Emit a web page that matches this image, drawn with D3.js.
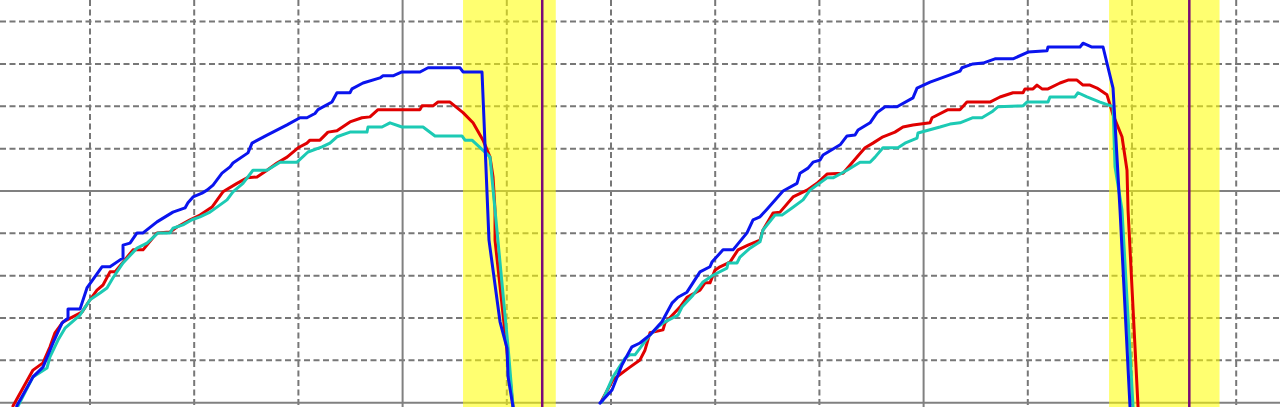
<!DOCTYPE html>
<html>
<head>
<meta charset="utf-8">
<script src="https://cdn.jsdelivr.net/npm/d3@7"></script>
<style>
html,body{margin:0;padding:0;background:#fff;overflow:hidden;}
svg{display:block;}
</style>
</head>
<body>
<svg id="chart" width="1280" height="407"></svg>
<script>
// ---- tick / grid values ----
const xGrid = [10,20,30,40,50,60,70,80,90,100,110,120];
const xMajor = [40,90];
const yGrid = [0,10,20,30,40,50,60,70,80,90];
const yMajor = [0,50];

// ---- highlighted windows and marker lines ----
const bandStart = [45.8, 107.8];
const bandEnd   = [54.7, 118.4];
const markers   = [53.4, 115.5];

// ---- series: [time, value] ----
const blueSeries = [
 [2.97,-0.8],[4.53,6.1],[5.49,8.4],[6.45,14.1],[7.31,18.8],[7.89,20.0],[7.89,22.1],[9.04,22.1],
 [9.71,27.1],[11.15,32.1],[11.92,32.1],[13.17,34.2],[13.17,37.2],[13.84,37.7],[14.51,40.1],[15.09,40.1],
 [16.43,42.7],[17.96,45.0],[19.12,46.0],[19.40,47.2],[19.89,48.6],[20.75,49.5],[21.23,50.2],[21.81,51.4],
 [22.67,54.2],[23.44,55.7],[23.72,56.6],[25.16,59.0],[25.55,61.3],[26.99,63.2],[28.91,65.6],[30.15,67.3],
 [30.82,67.3],[31.59,68.3],[31.88,69.2],[33.22,71.0],[33.70,73.2],[34.95,73.2],[35.14,74.1],[36.20,75.5],
 [37.83,76.7],[38.12,77.2],[39.08,77.2],[39.94,78.1],[41.67,78.1],[42.44,79.1],[45.51,79.1],[45.80,78.1],
 [47.62,78.1],[48.29,38.4],[49.35,19.1],[50.02,12.9],[50.12,6.1],[50.60,-1.0],
 null,
 [58.94,-0.1],[60.10,3.0],[61.05,8.9],[62.01,13.2],[62.78,14.1],[63.74,16.0],[64.89,19.1],[65.85,23.5],
 [66.43,24.9],[67.29,26.1],[68.54,30.9],[69.50,32.1],[69.69,33.2],[70.75,36.1],[71.71,36.1],[73.05,40.1],
 [73.63,43.2],[74.30,43.9],[74.97,45.7],[76.51,50.0],[77.85,51.8],[78.14,54.2],[78.91,55.4],[79.39,56.8],
 [80.06,57.3],[80.35,58.5],[81.99,60.9],[82.65,63.0],[83.42,63.2],[83.71,64.4],[84.86,66.1],[85.53,68.5],
 [86.30,69.9],[87.45,69.9],[88.98,72.0],[89.37,74.3],[90.62,75.7],[92.53,77.4],[93.49,78.3],[93.68,79.1],
 [94.74,80.0],[95.70,80.2],[96.85,81.2],[98.58,81.2],[100.02,82.8],[101.84,83.1],[101.94,84.0],[105.01,84.0],
 [105.30,84.9],[106.16,84.0],[107.22,84.0],[108.18,74.3],[108.85,45.5],[109.81,-1.0]
];

const redSeries = [
 [2.61,-0.8],[4.53,7.7],[5.49,9.4],[6.16,13.2],[6.64,16.5],[7.41,19.1],[9.23,21.4],[10.0,24.3],
 [10.67,26.6],[11.25,27.8],[11.92,30.9],[12.40,30.9],[13.17,33.2],[14.13,36.1],[15.09,36.1],[16.43,40.1],
 [17.68,40.3],[18.35,41.5],[19.60,43.2],[20.56,44.3],[21.71,46.2],[22.76,49.8],[24.11,51.8],[25.07,53.1],
 [26.03,53.3],[26.99,54.9],[27.95,56.6],[28.91,58.0],[29.97,60.2],[30.82,61.3],[31.11,62.0],[32.07,62.0],
 [32.84,63.9],[33.70,64.2],[34.95,66.3],[36.10,67.3],[36.87,67.5],[37.64,69.2],[41.67,69.2],[41.86,70.1],
 [42.92,70.1],[43.40,71.0],[44.55,71.0],[45.80,68.5],[46.76,66.1],[47.72,62.0],[48.39,58.0],[48.68,53.3],
 [48.87,45.5],[48.87,38.4],[49.83,16.5],[50.60,-1.0],
 null,
 [59.13,0.6],[60.19,5.4],[61.05,7.0],[61.82,8.4],[62.78,10.1],[63.26,12.4],[63.74,16.5],[64.99,17.2],
 [65.18,18.8],[66.62,22.6],[67.29,24.9],[68.54,26.6],[69.02,28.3],[69.50,28.3],[69.98,31.3],[70.46,32.1],
 [71.42,33.2],[72.19,36.1],[73.15,37.2],[74.30,38.4],[74.59,40.8],[75.55,44.8],[76.22,45.0],[77.47,48.6],
 [78.81,50.2],[79.77,51.8],[80.73,54.0],[82.27,54.2],[83.61,58.0],[84.38,60.2],[85.14,61.3],[86.10,62.8],
 [87.25,63.9],[88.02,65.1],[88.98,65.6],[90.62,66.1],[90.81,67.3],[92.34,69.2],[93.49,69.2],[94.16,71.0],
 [96.37,71.0],[97.33,72.2],[98.58,73.2],[99.54,73.2],[99.73,74.1],[100.50,74.1],[100.88,75.0],[101.36,74.1],
 [101.94,74.1],[103.09,75.5],[103.86,76.2],[104.72,76.2],[105.30,75.0],[105.97,75.0],[106.64,74.3],[107.60,72.7],
 [108.18,68.0],[109.04,62.8],[109.52,54.9],[109.62,45.5],[110.58,-1.0]
];

const tealSeries = [
 [3.09,-0.8],[4.53,6.1],[5.87,8.2],[6.16,10.8],[6.93,14.8],[7.60,17.6],[9.04,20.7],[10.0,24.3],
 [10.96,25.9],[11.63,27.1],[12.21,29.5],[13.17,33.0],[14.51,36.5],[15.47,37.7],[16.53,40.1],[17.68,40.1],
 [17.96,41.2],[18.92,42.0],[19.79,43.2],[20.56,43.9],[21.52,45.0],[23.15,47.9],[23.72,49.8],[24.68,51.8],
 [25.64,54.9],[26.99,54.9],[28.24,56.8],[29.87,56.8],[30.92,59.2],[32.27,60.4],[33.03,61.3],[33.70,62.8],
 [34.95,63.9],[36.58,63.9],[36.68,65.1],[38.02,65.1],[38.79,66.1],[39.94,65.1],[41.96,65.1],[43.11,63.0],
 [45.70,63.0],[45.99,62.0],[46.66,62.0],[47.91,59.2],[48.39,58.0],[48.87,45.5],[50.12,13.2],[50.60,-1.0],
 null,
 [59.13,0.2],[60.19,6.1],[61.34,10.5],[61.82,11.3],[62.30,11.3],[63.74,16.0],[64.51,17.9],[65.18,19.1],
 [66.43,20.7],[66.81,22.6],[67.87,25.4],[68.83,28.5],[69.79,30.1],[71.13,31.8],[71.23,33.0],[72.09,33.0],
 [72.38,34.4],[73.34,36.5],[74.30,38.0],[74.59,40.8],[75.74,44.3],[76.41,44.3],[77.37,46.0],[78.43,47.9],
 [79.10,50.2],[79.77,51.4],[80.73,53.1],[81.31,53.1],[82.65,54.9],[83.90,56.8],[84.86,56.8],[85.34,58.0],
 [86.10,60.2],[87.54,60.2],[88.21,61.3],[89.37,62.5],[89.46,63.7],[91.57,65.1],[92.53,65.8],[93.49,66.1],
 [94.74,67.3],[95.60,67.3],[96.56,68.7],[97.14,69.9],[99.54,70.1],[99.92,71.0],[101.94,71.0],[102.13,72.2],
 [104.53,72.2],[104.82,73.2],[105.68,72.2],[106.93,71.0],[108.18,69.9],[108.37,55.7],[109.04,45.5],[110.10,-1.0]
];

// ---- drawing ----
const W = 1280, H = 407;
const svg = d3.select("#chart");
const x = d3.scaleLinear().domain([0,120]).range([-14.2,1236.2]);
const y = d3.scaleLinear().domain([0,90]).range([402.7,21.6]);

const gridColor = "#777777";
const grid = svg.append("g");
// dashed minor grid
grid.selectAll("line.vx").data(xGrid.filter(v=>!xMajor.includes(v))).join("line")
  .attr("class","vx")
  .attr("x1",d=>x(d)).attr("x2",d=>x(d)).attr("y1",0).attr("y2",H)
  .attr("stroke",gridColor).attr("stroke-width",2).attr("stroke-dasharray","6,3.5");
grid.selectAll("line.hy").data(yGrid.filter(v=>!yMajor.includes(v))).join("line")
  .attr("class","hy")
  .attr("y1",d=>y(d)).attr("y2",d=>y(d)).attr("x1",0).attr("x2",W)
  .attr("stroke",gridColor).attr("stroke-width",2).attr("stroke-dasharray","6,3.5");
// solid major grid
grid.selectAll("line.mx").data(xMajor).join("line").attr("class","mx")
  .attr("x1",d=>x(d)).attr("x2",d=>x(d)).attr("y1",0).attr("y2",H)
  .attr("stroke","#808080").attr("stroke-width",2);
grid.selectAll("line.my").data(yMajor).join("line").attr("class","my")
  .attr("y1",d=>y(d)).attr("y2",d=>y(d)).attr("x1",0).attr("x2",W)
  .attr("stroke","#808080").attr("stroke-width",2);

// yellow windows (semi-transparent over grid)
svg.append("g").selectAll("rect").data(bandStart.map((s,i)=>[s,bandEnd[i]])).join("rect")
  .attr("x",d=>x(d[0])).attr("width",d=>x(d[1])-x(d[0]))
  .attr("y",0).attr("height",H)
  .attr("fill","#ffff00").attr("fill-opacity",0.56);

// marker lines
svg.append("g").selectAll("line").data(markers).join("line")
  .attr("x1",d=>x(d)).attr("x2",d=>x(d)).attr("y1",0).attr("y2",H)
  .attr("stroke","#7a0a78").attr("stroke-width",2.5);

// series lines
const line = d3.line().defined(d=>d!==null).x(d=>x(d[0])).y(d=>y(d[1]));
const series = [
  {data: redSeries,  color:"#e00000"},
  {data: tealSeries, color:"#1ccab4"},
  {data: blueSeries, color:"#0a14ee"}
];
svg.append("g").selectAll("path").data(series).join("path")
  .attr("d",d=>line(d.data))
  .attr("fill","none").attr("stroke",d=>d.color)
  .attr("stroke-width",3).attr("stroke-linejoin","round").attr("stroke-linecap","round");
</script>
</body>
</html>
